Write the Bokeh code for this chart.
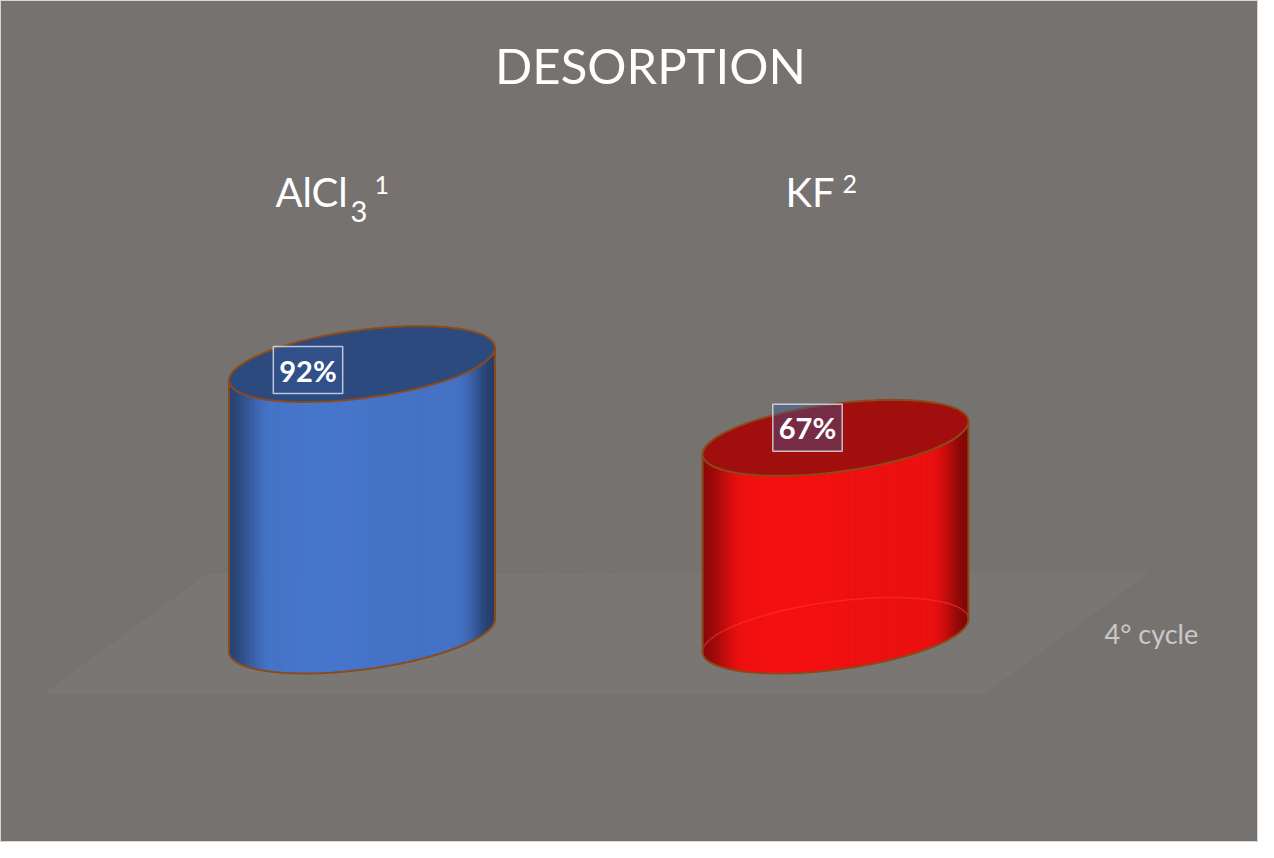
import math
from bokeh.plotting import figure
from bokeh.models import Range1d, Label
from bokeh.embed import file_html
from bokeh.resources import INLINE
from bokeh.core.properties import value

# ---------------- data ----------------
categories = ["AlCl3", "KF"]
cat_main = ["AlCl", "KF"]
cat_sub = ["3", ""]
cat_sup = ["1", "2"]
desorption = [92, 67]
value_labels = ["92%", "67%"]
series_name = "4° cycle"
title_text = "DESORPTION"

# ---------------- style ----------------
W, H = 1258, 842
BG = "#767270"
FLOOR = "#7a7674"
PX_PER_CAT = 473.5      # px between category centres
PX_PER_PCT = 2.95       # px per percent
X0_PX = 361.5           # px of first category centre
Y0_PX = 207.0           # px (from bottom) of the base line
A_PX, B_PX, TILT = 134.0, 34.0, math.radians(7.5)
BODY = [(68, 114, 196), (236, 16, 16)]
TOP = ["#2C4A7D", "#A00E0E"]
RIM = "#8C4A1A"
FONT = "Lato"
N = 90

p = figure(width=W, height=H, output_backend="svg", toolbar_location=None,
           x_range=Range1d(-X0_PX / PX_PER_CAT, (W - X0_PX) / PX_PER_CAT),
           y_range=Range1d(-Y0_PX / PX_PER_PCT, (H - Y0_PX) / PX_PER_PCT),
           min_border=0, background_fill_color=BG, border_fill_color=BG,
           outline_line_color="#d6d6d6", outline_line_width=1)
p.axis.visible = False
p.grid.visible = False


def px_to_data(sx, sy):
    """px (from the plot's top-left) -> data coords"""
    return (sx - X0_PX) / PX_PER_CAT, ((H - sy) - Y0_PX) / PX_PER_PCT


# floor of the 3D chart
floor_px = [(207, 573), (1149, 572), (985, 693), (43, 693)]
fx, fy = zip(*[px_to_data(a, b) for a, b in floor_px])
p.patch(list(fx), list(fy), fill_color=FLOOR, line_color=None)


def ell(cx, cy, t):
    dx = A_PX * math.cos(t) * math.cos(TILT) - B_PX * math.sin(t) * math.sin(TILT)
    dy = A_PX * math.cos(t) * math.sin(TILT) + B_PX * math.sin(t) * math.cos(TILT)
    return cx + dx / PX_PER_CAT, cy + dy / PX_PER_PCT


def smooth(e0, e1, x):
    t = min(max((x - e0) / (e1 - e0), 0.0), 1.0)
    return t * t * (3 - 2 * t)


def shade(base, f):
    m = 0.6 + 0.4 * smooth(0.0, 0.16, f)
    m *= 1.0 - 0.45 * smooth(0.86, 1.0, f)
    m *= 1.0 + 0.04 * math.exp(-((f - 0.35) / 0.2) ** 2)
    r, g, b = [min(255, int(c * m)) for c in base]
    return "#%02x%02x%02x" % (r, g, b)


tR = math.atan2(-B_PX * math.sin(TILT), A_PX * math.cos(TILT))

for i, v in enumerate(desorption):
    cx = i
    # front arc of bottom ellipse, from left tangent to right tangent
    ts = [tR + math.pi + math.pi * k / N for k in range(N + 1)]
    pts = [ell(cx, 0, t) for t in ts]
    xL, xR = pts[0][0], pts[-1][0]
    xs, ys, cols = [], [], []
    for k in range(N):
        (x1, y1), (x2, y2) = pts[k], pts[k + 1]
        xs.append([x1, x2, x2, x1])
        ys.append([y1, y2, y2 + v, y1 + v])
        f = ((x1 + x2) / 2 - xL) / (xR - xL)
        cols.append(shade(BODY[i], f))
    p.patches(xs, ys, fill_color=cols, line_color=cols, line_width=1)

    if i == 1:
        # translucent red: back of the base shows through
        bt = [tR + math.pi * k / N for k in range(N + 1)]
        bp = [ell(cx, 0, t) for t in bt]
        p.line([q[0] for q in bp], [q[1] for q in bp], line_color="#ff3a3a",
               line_alpha=0.5, line_width=1.5)

    # outline of body: bottom front arc and sides
    p.line([q[0] for q in pts], [q[1] for q in pts], line_color=RIM, line_width=2)
    p.line([xL, xL], [pts[0][1], pts[0][1] + v], line_color=RIM, line_width=2)
    p.line([xR, xR], [pts[-1][1], pts[-1][1] + v], line_color=RIM, line_width=2)

    # top ellipse
    tt = [2 * math.pi * k / 120 for k in range(121)]
    tp = [ell(cx, v, t) for t in tt]
    p.patch([q[0] for q in tp], [q[1] for q in tp], fill_color=TOP[i],
            line_color=RIM, line_width=2)

# value labels
p.text(x=list(range(len(desorption))), y=desorption, text=value_labels,
       x_offset=[-54, -28], y_offset=[6, -10],
       text_font=value(FONT), text_font_style="bold", text_font_size="29px",
       text_color="white", text_align="center", text_baseline="middle",
       background_fill_color="#3a5a9a", background_fill_alpha=0.4,
       border_line_color="#dfe4ee", border_line_alpha=0.8, border_line_width=1.5,
       padding=6)

# category labels (with sub/superscripts)
main_off = [-86.5, -50]
sub_off = [-11.5, 0]
sup_off = [12.5, 7]
sup_y = [658, 659]
for i in range(len(categories)):
    p.add_layout(Label(x=i, y=651, x_units="data", y_units="screen",
                       x_offset=main_off[i], text=cat_main[i], text_font=FONT,
                       text_font_size="40px", text_color="white",
                       text_baseline="alphabetic"))
    if cat_sub[i]:
        p.add_layout(Label(x=i, y=631, x_units="data", y_units="screen",
                           x_offset=sub_off[i], text=cat_sub[i], text_font=FONT,
                           text_font_size="29px", text_color="white",
                           text_baseline="alphabetic"))
    p.add_layout(Label(x=i, y=sup_y[i], x_units="data", y_units="screen",
                       x_offset=sup_off[i], text=cat_sup[i], text_font=FONT,
                       text_font_size="25px", text_color="white",
                       text_baseline="alphabetic"))

# title
p.add_layout(Label(x=650, y=778, x_units="screen", y_units="screen",
                   text=title_text, text_font=FONT, text_font_size="49px",
                   text_color="white", text_align="center",
                   text_baseline="alphabetic"))

# series name
p.add_layout(Label(x=1104, y=209, x_units="screen", y_units="screen",
                   text=series_name, text_font=FONT, text_font_size="27px",
                   text_color="#c9c9c9", text_baseline="alphabetic"))

open("out.html", "w").write(file_html(p, INLINE))
